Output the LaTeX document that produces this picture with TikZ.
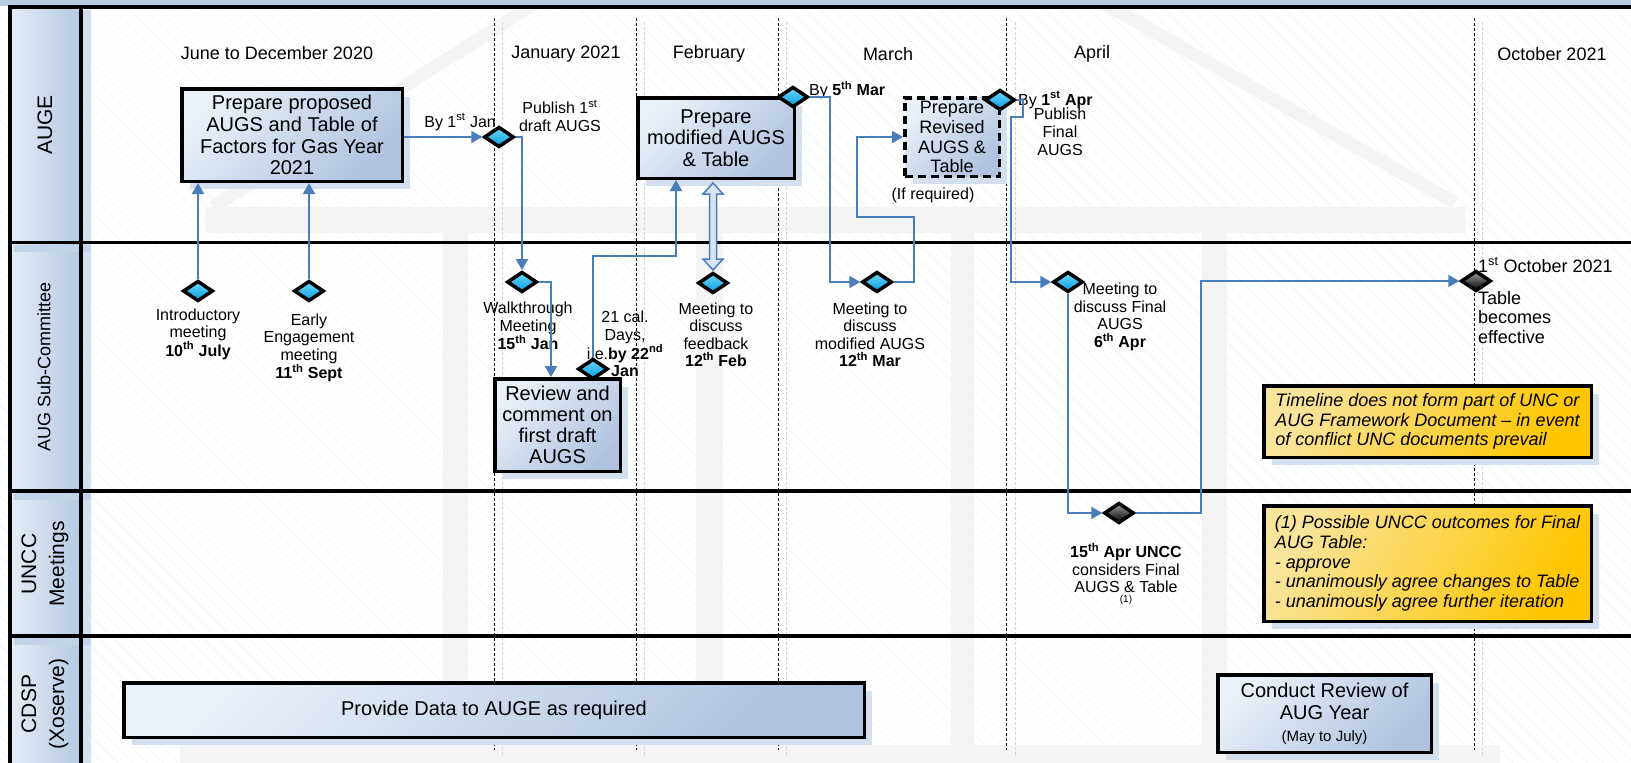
\documentclass[tikz,border=0pt]{standalone}
\usepackage{fontspec}
\setmainfont{Liberation Sans}
\usetikzlibrary{shapes.geometric,arrows.meta,calc,shadows}

\definecolor{connc}{HTML}{4A7EBB}
\definecolor{boxlight}{HTML}{EAF0F8}
\definecolor{boxdark}{HTML}{AFC3E0}
\definecolor{shadowc}{HTML}{D5E0EF}
\definecolor{hdrlight}{HTML}{E6EDF6}
\definecolor{hdrdark}{HTML}{B4C8E3}
\definecolor{topband}{HTML}{B8CCE4}
\definecolor{dialight}{HTML}{6FD9FB}
\definecolor{diadark}{HTML}{039DDF}
\definecolor{notelight}{HTML}{F8E49A}
\definecolor{notedark}{HTML}{FFC600}
\definecolor{wmgray}{HTML}{F4F4F4}
\definecolor{hatchc}{HTML}{EEF6F8}
\definecolor{ghost}{HTML}{CCD6E3}
\definecolor{hollowc}{HTML}{D9E4F2}

\begin{document}
\begin{tikzpicture}[x=1pt,y=-1pt,
  lane/.style={black,line width=3.5pt},
  monthline/.style={black,line width=0.8pt,dash pattern=on 3pt off 2pt},
  ghostline/.style={ghost,line width=0.8pt,dash pattern=on 3pt off 2pt},
  hdrtext/.style={rotate=90,align=center,inner sep=0pt},
  boxshadow/.style={general shadow={fill=shadowc,shadow xshift=8pt,shadow yshift=-8pt}},
  procbox/.style={draw=black,line width=3.5pt,top color=boxlight,bottom color=boxdark,shading angle=45,
    align=center,inner sep=0pt,boxshadow,font=\fontsize{20}{21.7}\selectfont},
  notebox/.style={draw=black,line width=3.5pt,top color=notelight,bottom color=notedark,shading angle=60,
    align=left,inner sep=0pt,minimum width=327.5pt,boxshadow,font=\itshape\fontsize{18}{19.7}\selectfont},
  decision/.style={shape=diamond,draw=black,line width=3.5pt,top color=dialight,bottom color=diadark,
    minimum width=30pt,minimum height=20.5pt,inner sep=0pt},
  darkdecision/.style={decision,top color=gray!75,bottom color=black},
  conn/.style={draw=connc,line width=2pt,-{Triangle[length=11pt,width=12pt]}},
  lbl/.style={align=center,inner sep=0pt,font=\fontsize{16}{17.5}\selectfont},
  month/.style={inner sep=0pt,font=\fontsize{18}{20}\selectfont}
]
\fill[white] (0,0) rectangle (1631,763);
\useasboundingbox (0,0) rectangle (1631,763);

% faint background hatching and watermark
\begin{scope}
  \clip (0,0) rectangle (1631,763);
  \foreach \i in {-55,...,110} {\draw[hatchc,line width=0.7pt] (\i*15,0) -- ++(763,763);}
  \draw[wmgray,line width=13pt] (213,207) -- (805,-167) -- (1455,203);
  \fill[wmgray] (205,207) rectangle (1465,233);
  \foreach \a/\b in {443/468,696/723,951/974,1202/1227} {\fill[wmgray] (\a,233) rectangle (\b,745);}
  \fill[wmgray] (180,745) rectangle (1500,763);
\end{scope}

% frame
\fill[topband] (0,0) rectangle (1631,6);
\shade[left color=hdrlight,right color=hdrdark] (10,7) rectangle (81,242.5);
\shade[left color=hdrlight,right color=hdrdark] (10,242.5) rectangle (81,491);
\shade[left color=hdrlight,right color=hdrdark] (10,491) rectangle (81,636);
\shade[left color=hdrlight,right color=hdrdark] (10,636) rectangle (81,763);
\fill[shadowc] (81,10) rectangle (91,763);
\foreach \yy in {242.5,491,636} {\fill[hdrdark!80] (14,\yy+2) rectangle (91,\yy+9);}

% month separators
\foreach \xx in {494,636,778,1006.5,1474} {
  \draw[ghostline] (\xx+8.5,22) -- (\xx+8.5,755);
  \draw[monthline] (\xx,18) -- (\xx,750);
}

\draw[lane] (8.25,7) -- (1631,7);
\draw[lane] (8.25,242.5) -- (1631,242.5);
\draw[lane] (8.25,491) -- (1631,491);
\draw[lane] (8.25,636) -- (1631,636);
\draw[lane] (10,5.25) -- (10,763);
\draw[lane] (81,5.25) -- (81,763);

% lane headers
\node[hdrtext,font=\fontsize{21}{24}\selectfont] (hauge) at (45,125) {AUGE};
\node[hdrtext,font=\fontsize{18}{20}\selectfont] (hsub) at (44,367) {AUG Sub-Committee};
\node[hdrtext,font=\fontsize{21}{28}\selectfont] (huncc) at (45,564) {UNCC\\Meetings};
\node[hdrtext,font=\fontsize{21}{28}\selectfont] (hcdsp) at (45,704) {CDSP\\(Xoserve)};

% month labels
\node[month] (m1) at (277,53) {June to December 2020};
\node[month] (m2) at (566,54) {January 2021};
\node[month] (m3) at (709,54) {February};
\node[month] (m4) at (888,54) {March};
\node[month] (m5) at (1092,54) {April};
\node[month] (m6) at (1552,54) {October 2021};

% process boxes
\node[procbox,minimum width=220.5pt,minimum height=92.5pt] (box1) at (292,135)
  {Prepare proposed\\AUGS and Table of\\Factors for Gas Year\\2021};
\node[procbox,minimum width=156.5pt,minimum height=80.5pt] (box2) at (716,138)
  {Prepare\\modified AUGS\\\& Table};
\node[procbox,dash pattern=on 8pt off 5pt,minimum width=94.5pt,minimum height=78.5pt,
  font=\fontsize{18}{19.8}\selectfont] (box3) at (952,137)
  {Prepare\\Revised\\AUGS \&\\Table};
\node[procbox,minimum width=125.5pt,minimum height=92.5pt,font=\fontsize{20}{21}\selectfont] (review) at (557.5,425)
  {Review and\\comment on\\first draft\\AUGS};
\node[procbox,minimum width=740.5pt,minimum height=54.5pt] (provide) at (494,710)
  {Provide Data to AUGE as required};
\node[procbox,minimum width=213.5pt,minimum height=77.5pt,font=\fontsize{20}{22}\selectfont] (conduct) at (1324.5,713.5)
  {Conduct Review of\\AUG Year\\{\fontsize{15}{16}\selectfont (May to July)}};

% notes
\node[notebox,minimum height=71.5pt] (note1) at (1427.5,421.5)
  {Timeline does not form part of UNC or\\AUG Framework Document -- in event\\of conflict UNC documents prevail};
\node[notebox,minimum height=115.5pt] (note2) at (1427.5,563.5)
  {(1) Possible UNCC outcomes for Final\\AUG Table:\\- approve\\- unanimously agree changes to Table\\- unanimously agree further iteration};

% decision diamonds
\node[decision] (d1) at (499,137) {};
\node[decision] (dw) at (522,282) {};
\node[decision] (dint) at (198,291) {};
\node[decision] (dear) at (309,291) {};
\node[decision] (dj) at (593,369) {};
\node[decision] (dfeb) at (713,283) {};
\node[decision] (d5) at (793,97) {};
\node[decision] (dm) at (877,282) {};
\node[decision] (dapr) at (1000,100) {};
\node[decision] (da6) at (1068,282) {};
\node[darkdecision] (du) at (1119,513) {};
\node[darkdecision] (doct) at (1476,281) {};

% labels
\node[lbl,anchor=east] (lbyjan) at (496,122) {By 1\textsuperscript{st} Jan};
\node[lbl,font=\fontsize{16}{18}\selectfont] (lpub) at (560,116) {Publish 1\textsuperscript{st}\\draft AUGS};
\node[lbl,anchor=west] (lby5) at (809,90) {By \textbf{5\textsuperscript{th} Mar}};
\node[lbl,anchor=west] (lby1a) at (1018,100) {By \textbf{1\textsuperscript{st} Apr}};
\node[lbl,font=\fontsize{16}{18}\selectfont] (lpubf) at (1060,132) {Publish\\Final\\AUGS};
\node[lbl] (lifreq) at (933,195) {(If required)};
\node[lbl] (lint) at (198,334) {Introductory\\meeting\\\textbf{10\textsuperscript{th} July}};
\node[lbl] (lear) at (309,348) {Early\\Engagement\\meeting\\\textbf{11\textsuperscript{th} Sept}};
\node[lbl] (lwalk) at (528,326) {Walkthrough\\Meeting\\\textbf{15\textsuperscript{th} Jan}};
\node[lbl] (l21) at (625,344) {21 cal.\\Days,\\i.e.\textbf{by 22\textsuperscript{nd}}\\\textbf{Jan}};
\node[lbl] (lfeb) at (716,335) {Meeting to\\discuss\\feedback\\\textbf{12\textsuperscript{th} Feb}};
\node[lbl] (lmar) at (870,335) {Meeting to\\discuss\\modified AUGS\\\textbf{12\textsuperscript{th} Mar}};
\node[lbl] (lapr) at (1120,317) {Meeting to\\discuss Final\\AUGS\\\textbf{6\textsuperscript{th} Apr}};
\node[lbl] (luncc) at (1126,568) {\textbf{15\textsuperscript{th} Apr UNCC}\\considers Final\\AUGS \& Table};
\node[inner sep=0pt,font=\fontsize{10}{11}\selectfont] (lone) at (1126,600) {(1)};
\node[anchor=west,inner sep=0pt,font=\fontsize{18}{19.5}\selectfont] (loct) at (1478,265) {1\textsuperscript{st} October 2021};
\node[anchor=west,align=left,inner sep=0pt,font=\fontsize{18}{19.5}\selectfont] (leff) at (1478,317.5) {Table\\becomes\\effective};

% connectors
\draw[conn] (box1.east |- d1.west) -- (d1.west);
\draw[conn] (d1.east) -| (dw.north);
\draw[conn] (dint.north) -- (dint.north |- box1.south);
\draw[conn] (dear.north) -- (dear.north |- box1.south);
\draw[conn] (dw.east) -| ([xshift=-6.5pt]review.north);
\draw[conn] (dj.north) -- ++(0,-101) -| ([xshift=-40pt]box2.south);
\draw[conn] (d5.east) -- ++(20,0) |- (dm.west);
\draw[conn] (dm.east) -- ++(20,0) -- ++(0,-65) -- ++(-57,0) |- (box3.west);
\draw[conn] (dapr.east) -- ++(6,0) -- ++(0,17) -- ++(-12,0) |- (da6.west);
\draw[conn] (da6.south) |- (du.west);
\draw[conn] (du.east) -- ++(65,0) |- (doct.west);

% hollow two-way arrow between box2 and the February meeting
\coordinate (ht) at ($(box2.south)+(-3,3)$);
\coordinate (hb) at ($(dfeb.north)+(0,-1)$);
\draw[connc,line width=1.5pt,fill=hollowc,line join=miter]
  (ht) -- ++(10,11) -- ++(-6.5,0) -- ($(hb)+(3.5,-11)$) -- ++(6.5,0) -- (hb)
  -- ++(-10,-11) -- ++(6.5,0) -- ($(ht)+(-3.5,11)$) -- ++(-6.5,0) -- cycle;
\end{tikzpicture}
\end{document}
